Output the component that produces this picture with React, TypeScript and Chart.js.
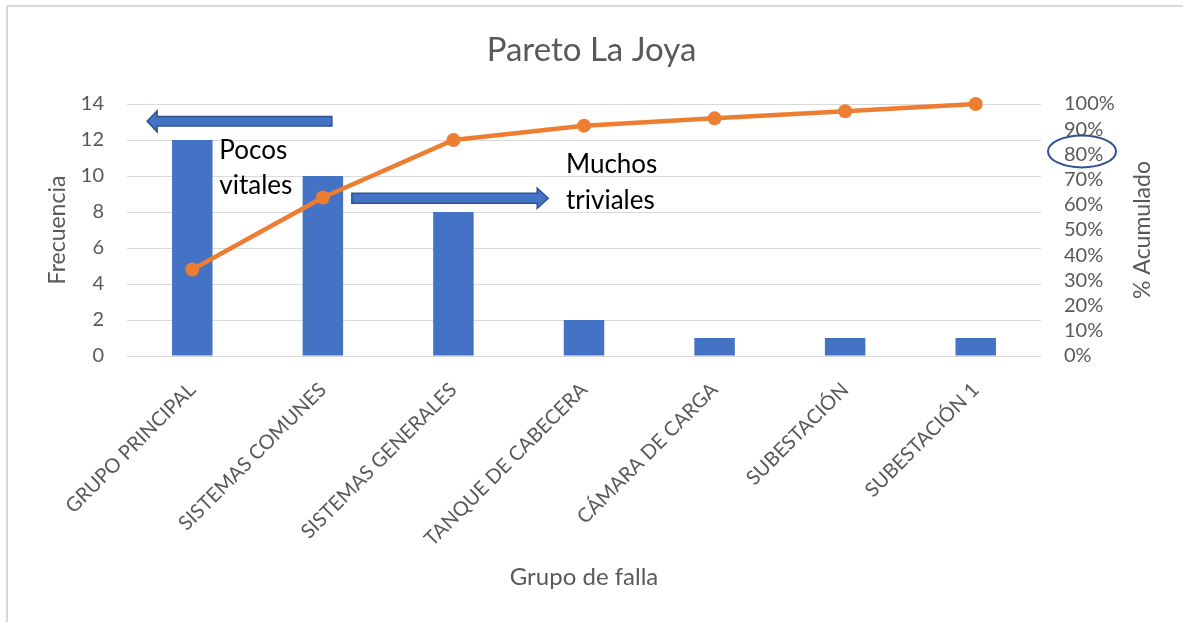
import React, { useEffect, useRef } from 'react';
import { Chart, registerables } from 'chart.js';

Chart.register(...registerables);

const categories = [
  'GRUPO PRINCIPAL',
  'SISTEMAS COMUNES',
  'SISTEMAS GENERALES',
  'TANQUE DE CABECERA',
  'CÁMARA DE CARGA',
  'SUBESTACIÓN',
  'SUBESTACIÓN 1',
];
const frecuencia = [12, 10, 8, 2, 1, 1, 1];
const acumulado = [34.3, 62.9, 85.7, 91.4, 94.3, 97.1, 100];
const freqTicks = [0, 2, 4, 6, 8, 10, 12, 14];
const pctTicks = [0, 10, 20, 30, 40, 50, 60, 70, 80, 90, 100];

const titleText = 'Pareto La Joya';
const xTitle = 'Grupo de falla';
const yTitle = 'Frecuencia';
const y1Title = '% Acumulado';
const noteLeft = ['Pocos', 'vitales'];
const noteRight = ['Muchos', 'triviales'];

const FONT = 'Lato, "Open Sans", sans-serif';
const GREY = '#595959';

function drawArrow(ctx: CanvasRenderingContext2D, xTail: number, xTip: number, yc: number, sh: number, hh: number, hl: number) {
  const dir = Math.sign(xTip - xTail);
  const xb = xTip - dir * hl;
  ctx.beginPath();
  ctx.moveTo(xTail, yc - sh);
  ctx.lineTo(xb, yc - sh);
  ctx.lineTo(xb, yc - hh);
  ctx.lineTo(xTip, yc);
  ctx.lineTo(xb, yc + hh);
  ctx.lineTo(xb, yc + sh);
  ctx.lineTo(xTail, yc + sh);
  ctx.closePath();
  ctx.fillStyle = '#4472C4';
  ctx.fill();
  ctx.strokeStyle = '#2F528F';
  ctx.lineWidth = 1.5;
  ctx.stroke();
}

const decorPlugin = {
  id: 'decor',
  beforeDraw(chart: any) {
    const ctx = chart.ctx as CanvasRenderingContext2D;
    ctx.save();
    ctx.fillStyle = '#ffffff';
    ctx.fillRect(0, 0, chart.width, chart.height);
    ctx.fillStyle = '#d9d9d9';
    ctx.fillRect(6, 5, 2, chart.height - 5);
    ctx.fillRect(6, 5, chart.width - 6, 2);
    ctx.restore();
  },
  afterDatasetsDraw(chart: any) {
    const ctx = chart.ctx as CanvasRenderingContext2D;
    const x = chart.scales.x;
    const y = chart.scales.y;
    const y1 = chart.scales.y1;
    ctx.save();
    drawArrow(ctx, x.getPixelForValue(1.069), x.getPixelForValue(-0.346), y.getPixelForValue(13.04), 4.7, 10.5, 10);
    drawArrow(ctx, x.getPixelForValue(1.222), x.getPixelForValue(2.726), y.getPixelForValue(8.76), 5, 10, 11);
    ctx.fillStyle = '#000000';
    ctx.font = `26px ${FONT}`;
    ctx.textAlign = 'left';
    ctx.textBaseline = 'alphabetic';
    ctx.fillText(noteLeft[0], x.getPixelForValue(0.207), y.getPixelForValue(10.94));
    ctx.fillText(noteLeft[1], x.getPixelForValue(0.207), y.getPixelForValue(9.0));
    ctx.fillText(noteRight[0], x.getPixelForValue(2.862), y.getPixelForValue(10.15));
    ctx.fillText(noteRight[1], x.getPixelForValue(2.862), y.getPixelForValue(8.17));
    // ellipse around 80%
    ctx.beginPath();
    ctx.ellipse(y1.left + 41, y1.getPixelForValue(81.2), 34, 16, 0, 0, Math.PI * 2);
    ctx.strokeStyle = '#2F528F';
    ctx.lineWidth = 2;
    ctx.stroke();
    // right axis title (reads bottom to top)
    ctx.translate(y1.right - 40, (y1.top + y1.bottom) / 2);
    ctx.rotate(-Math.PI / 2);
    ctx.font = `23px ${FONT}`;
    ctx.fillStyle = GREY;
    ctx.textAlign = 'center';
    ctx.textBaseline = 'middle';
    ctx.fillText(y1Title, 0, 0);
    ctx.restore();
  },
};

export default function App() {
  const ref = useRef<HTMLCanvasElement | null>(null);
  useEffect(() => {
    if (!ref.current) return;
    const chart = new Chart(ref.current, {
      type: 'bar',
      data: {
        labels: categories,
        datasets: [
          {
            type: 'line',
            label: '% Acumulado',
            data: acumulado,
            yAxisID: 'y1',
            borderColor: '#ED7D31',
            backgroundColor: '#ED7D31',
            borderWidth: 4.5,
            pointRadius: 7,
            pointBorderWidth: 0,
            pointBackgroundColor: '#ED7D31',
            tension: 0,
            clip: false,
            order: 0,
          } as any,
          {
            type: 'bar',
            label: 'Frecuencia',
            data: frecuencia,
            yAxisID: 'y',
            backgroundColor: '#4472C4',
            barPercentage: 0.31,
            categoryPercentage: 1,
            order: 1,
          },
        ],
      },
      options: {
        responsive: false,
        animation: false,
        devicePixelRatio: 1,
        layout: { padding: 0 },
        plugins: {
          legend: { display: false },
          tooltip: { enabled: false },
          title: {
            display: true,
            text: titleText,
            color: GREY,
            font: { family: FONT, size: 33, weight: 'normal' },
            padding: { top: 30.2, bottom: 34.2 },
          },
        },
        scales: {
          x: {
            grid: { display: false, drawTicks: false },
            border: { display: false },
            ticks: {
              color: GREY,
              font: { family: FONT, size: 20 },
              minRotation: 45,
              maxRotation: 45,
              autoSkip: false,
              padding: 22,
            },
            title: {
              display: true,
              text: xTitle,
              color: GREY,
              font: { family: FONT, size: 24 },
              padding: { top: 0, bottom: 30.6 },
            },
            afterFit(scale: any) {
              scale.height = 266;
            },
          },
          y: {
            position: 'left',
            min: 0,
            max: 14,
            afterBuildTicks(scale: any) {
              scale.ticks = freqTicks.map((v) => ({ value: v }));
            },
            grid: { color: '#d9d9d9', lineWidth: 1, drawTicks: false },
            border: { display: false },
            ticks: { color: GREY, font: { family: FONT, size: 20 }, padding: 23, autoSkip: false },
            title: {
              display: true,
              text: yTitle,
              color: GREY,
              font: { family: FONT, size: 23 },
              padding: { top: 44, bottom: 0 },
            },
            afterFit(scale: any) {
              scale.width = 127;
            },
          },
          y1: {
            position: 'right',
            min: 0,
            max: 100,
            afterBuildTicks(scale: any) {
              scale.ticks = pctTicks.map((v) => ({ value: v }));
            },
            grid: { display: false, drawTicks: false },
            border: { display: false },
            ticks: {
              color: GREY,
              font: { family: FONT, size: 20 },
              padding: 23,
              autoSkip: false,
              callback: (v: any) => `${v}%`,
            },
            afterFit(scale: any) {
              scale.width = 142;
            },
          },
        },
      },
      plugins: [decorPlugin],
    } as any);
    return () => chart.destroy();
  }, []);
  return (
    <div style={{ position: 'fixed', left: 0, top: 0, width: 1183, height: 622, background: '#fff' }}>
      <canvas ref={ref} width={1183} height={622} style={{ display: 'block' }} />
    </div>
  );
}
